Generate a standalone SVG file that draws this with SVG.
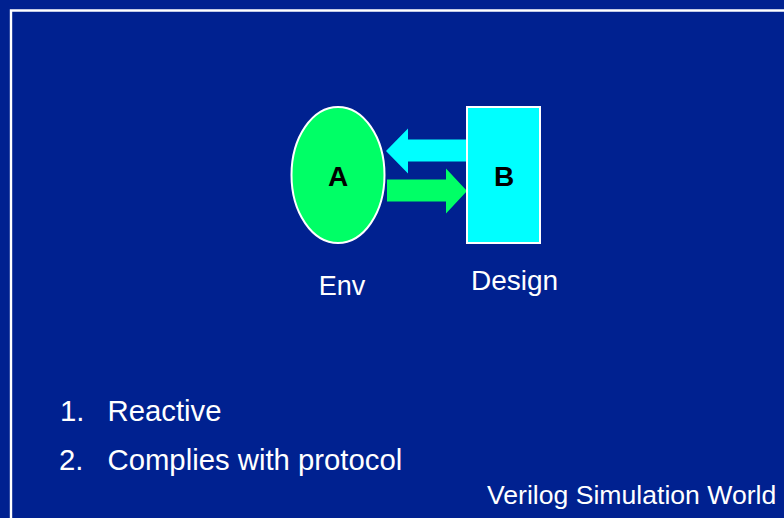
<svg xmlns="http://www.w3.org/2000/svg" width="784" height="518" viewBox="0 0 784 518">
  <style>
    .txt { font-family: "Liberation Sans", Arial, sans-serif; fill: #ffffff; }
    .lbl { font-family: "Liberation Sans", Arial, sans-serif; font-weight: bold; fill: #000000; font-size: 28px; text-anchor: middle; }
    .frame { stroke: #ffffff; stroke-width: 2.4; fill: none; }
  </style>
  <!-- slide background and frame -->
  <rect x="0" y="0" width="784" height="518" fill="#002190"/>
  <path class="frame" d="M11 518 V10.5 H784"/>

  <!-- connectors between environment and design -->
  <g id="connectors">
    <polygon points="466,139.5 408,139.5 408,128.5 386,151 408,173.5 408,161.5 466,161.5" fill="#00ffff"/>
    <polygon points="387,179.5 446,179.5 446,168.5 467,191 446,213.5 446,201.5 387,201.5" fill="#00ff66"/>
  </g>

  <g id="node-a">
    <ellipse cx="338" cy="175" rx="46.5" ry="68" fill="#00ff66" stroke="#ffffff" stroke-width="2"/>
    <text class="lbl" x="338" y="185.5">A</text>
  </g>

  <g id="node-b">
    <rect x="467" y="107" width="73" height="136" fill="#00ffff" stroke="#ffffff" stroke-width="2"/>
    <text class="lbl" x="504" y="185.5">B</text>
  </g>

  <text class="txt" x="342" y="294.5" font-size="27" text-anchor="middle">Env</text>
  <text class="txt" x="514.5" y="290" font-size="28" text-anchor="middle">Design</text>

  <text class="txt" x="60" y="421" font-size="29.3">1.</text>
  <text class="txt" x="107.5" y="421" font-size="29.3">Reactive</text>
  <text class="txt" x="59" y="470" font-size="29.3">2.</text>
  <text class="txt" x="107.5" y="470" font-size="29.3">Complies with protocol</text>

  <text class="txt" x="487" y="503.5" font-size="26.6">Verilog Simulation World</text>
</svg>
